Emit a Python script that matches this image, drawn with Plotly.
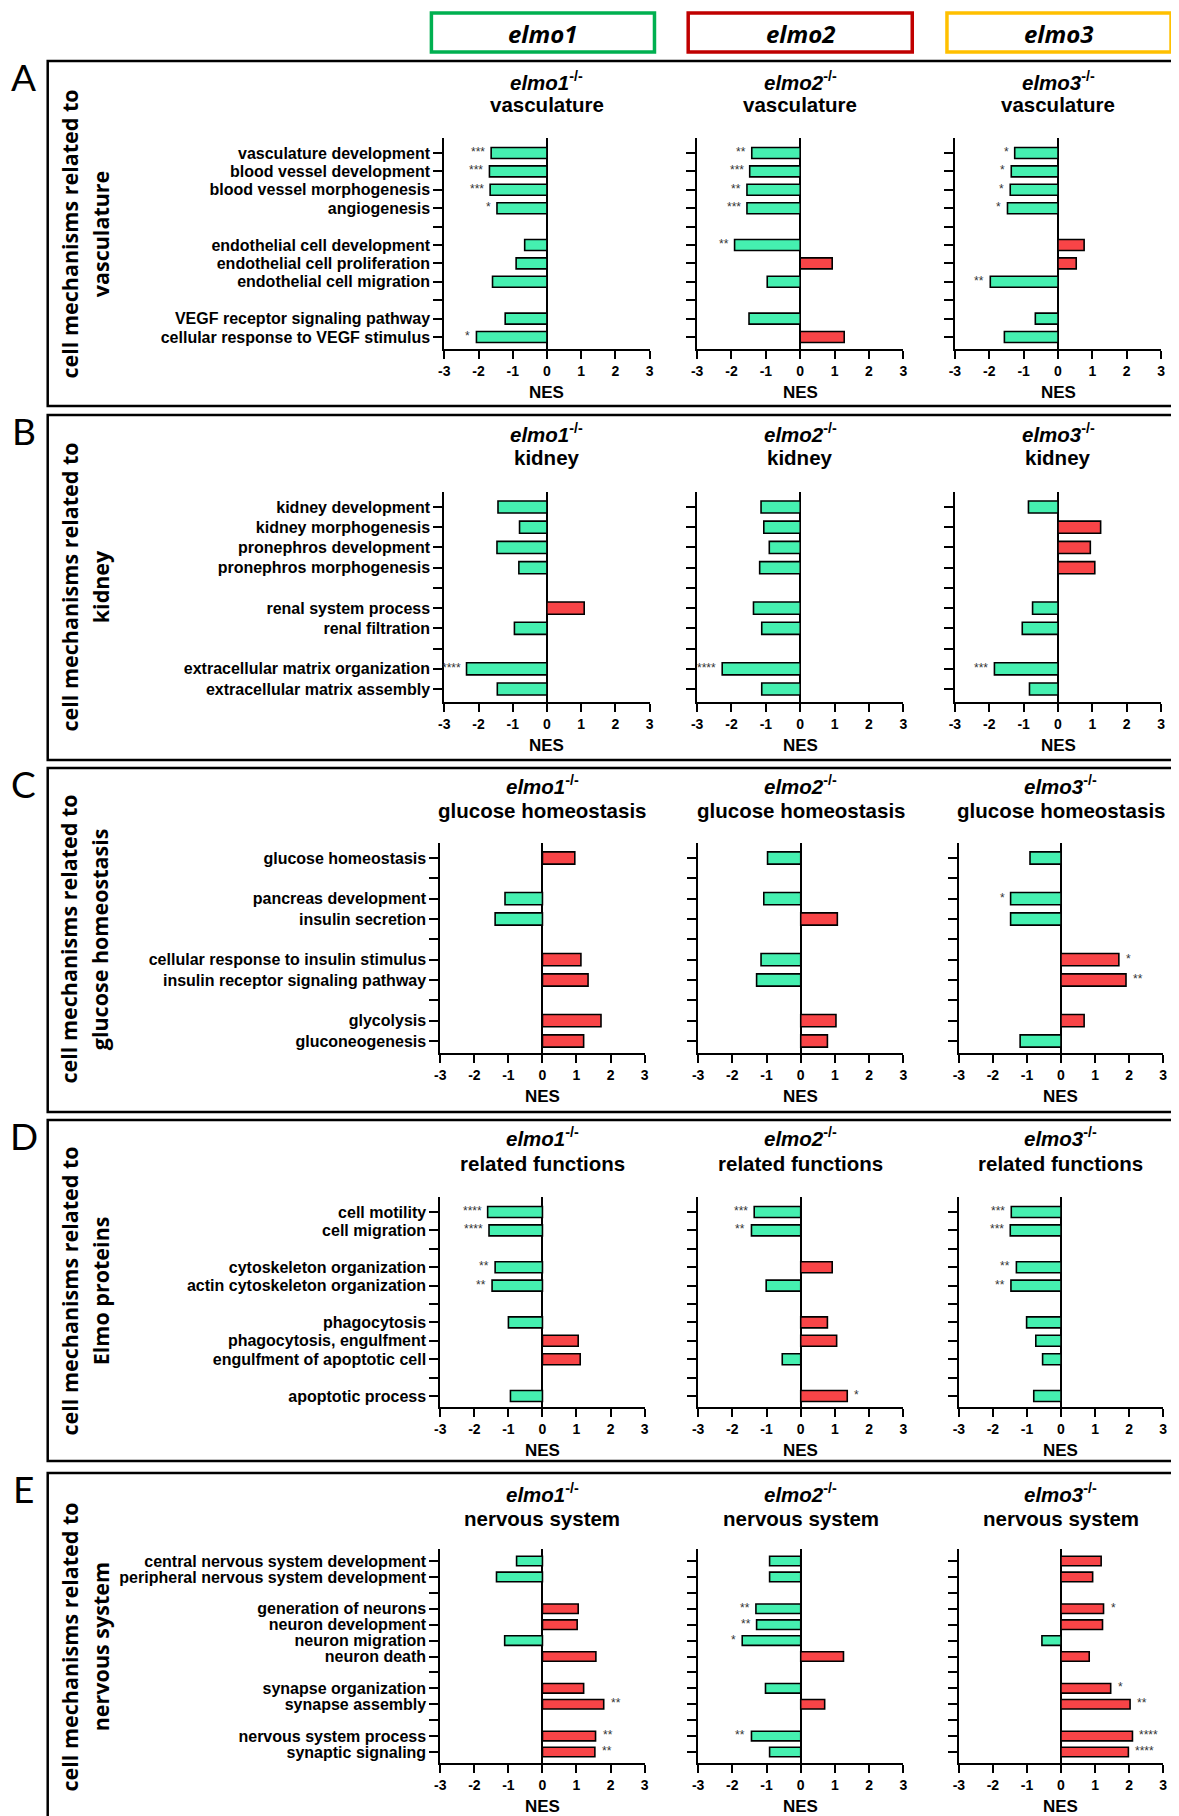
import plotly.graph_objects as go

W, H = 1179, 1816
OFF = 8                      # default page margin of the html body
FW, FH = W - OFF, H - OFF    # figure size so that it fits the window

# ------------------------- DATA -------------------------
GENES = ["elmo1", "elmo2", "elmo3"]
NES_TICKS = [-3, -2, -1, 0, 1, 2, 3]
NES_TICK_TEXT = ["-3", "-2", "-1", "0", "1", "2", "3"]

A_cats = ["vasculature development", "blood vessel development", "blood vessel morphogenesis",
          "angiogenesis", "", "endothelial cell development", "endothelial cell proliferation",
          "endothelial cell migration", "", "VEGF receptor signaling pathway",
          "cellular response to VEGF stimulus"]
A_elmo1 = [-1.63, -1.68, -1.66, -1.46, None, -0.65, -0.90, -1.59, None, -1.22, -2.06]
A_elmo2 = [-1.41, -1.47, -1.55, -1.55, None, -1.91, 0.93, -0.96, None, -1.49, 1.28]
A_elmo3 = [-1.26, -1.36, -1.39, -1.47, None, 0.76, 0.53, -1.97, None, -0.66, -1.56]
A_elmo1_sig = ["***", "***", "***", "*", "", "", "", "", "", "", "*"]
A_elmo2_sig = ["**", "***", "**", "***", "", "**", "", "", "", "", ""]
A_elmo3_sig = ["*", "*", "*", "*", "", "", "", "**", "", "", ""]

B_cats = ["kidney development", "kidney morphogenesis", "pronephros development",
          "pronephros morphogenesis", "", "renal system process", "renal filtration", "",
          "extracellular matrix organization", "extracellular matrix assembly"]
B_elmo1 = [-1.43, -0.80, -1.46, -0.82, None, 1.09, -0.95, None, -2.35, -1.45]
B_elmo2 = [-1.14, -1.06, -0.90, -1.18, None, -1.36, -1.12, None, -2.27, -1.12]
B_elmo3 = [-0.86, 1.24, 0.94, 1.07, None, -0.74, -1.04, None, -1.85, -0.83]
B_elmo1_sig = ["", "", "", "", "", "", "", "", "****", ""]
B_elmo2_sig = ["", "", "", "", "", "", "", "", "****", ""]
B_elmo3_sig = ["", "", "", "", "", "", "", "", "***", ""]

C_cats = ["glucose homeostasis", "", "pancreas development", "insulin secretion", "",
          "cellular response to insulin stimulus", "insulin receptor signaling pathway", "",
          "glycolysis", "gluconeogenesis"]
C_elmo1 = [0.95, None, -1.10, -1.39, None, 1.13, 1.34, None, 1.72, 1.21]
C_elmo2 = [-0.97, None, -1.08, 1.07, None, -1.16, -1.29, None, 1.03, 0.78]
C_elmo3 = [-0.91, None, -1.48, -1.48, None, 1.70, 1.91, None, 0.68, -1.20]
C_elmo1_sig = ["", "", "", "", "", "", "", "", "", ""]
C_elmo2_sig = ["", "", "", "", "", "", "", "", "", ""]
C_elmo3_sig = ["", "", "*", "", "", "*", "**", "", "", ""]

D_cats = ["cell motility", "cell migration", "", "cytoskeleton organization",
          "actin cytoskeleton organization", "", "phagocytosis", "phagocytosis, engulfment",
          "engulfment of apoptotic cell", "", "apoptotic process"]
D_elmo1 = [-1.61, -1.57, None, -1.39, -1.48, None, -1.00, 1.05, 1.11, None, -0.94]
D_elmo2 = [-1.36, -1.44, None, 0.92, -1.01, None, 0.78, 1.05, -0.54, None, 1.36]
D_elmo3 = [-1.46, -1.49, None, -1.31, -1.47, None, -1.01, -0.74, -0.54, None, -0.80]
D_elmo1_sig = ["****", "****", "", "**", "**", "", "", "", "", "", ""]
D_elmo2_sig = ["***", "**", "", "", "", "", "", "", "", "", "*"]
D_elmo3_sig = ["***", "***", "", "**", "**", "", "", "", "", "", ""]

E_cats = ["central nervous system development", "peripheral nervous system development", "",
          "generation of neurons", "neuron development", "neuron migration", "neuron death", "",
          "synapse organization", "synapse assembly", "", "nervous system process",
          "synaptic signaling"]
E_elmo1 = [-0.76, -1.35, None, 1.05, 1.02, -1.11, 1.57, None, 1.21, 1.80, None, 1.56, 1.54]
E_elmo2 = [-0.91, -0.91, None, -1.31, -1.29, -1.71, 1.25, None, -1.03, 0.70, None, -1.44, -0.91]
E_elmo3 = [1.18, 0.93, None, 1.25, 1.22, -0.56, 0.83, None, 1.46, 2.03, None, 2.10, 1.98]
E_elmo1_sig = ["", "", "", "", "", "", "", "", "", "**", "", "**", "**"]
E_elmo2_sig = ["", "", "", "**", "**", "*", "", "", "", "", "", "**", ""]
E_elmo3_sig = ["", "", "", "*", "", "", "", "", "*", "**", "", "****", "****"]

panels = [
    dict(letter="A", topic="vasculature", ytitle=("cell mechanisms related to", "vasculature"),
         cats=A_cats, vals=[A_elmo1, A_elmo2, A_elmo3], sig=[A_elmo1_sig, A_elmo2_sig, A_elmo3_sig]),
    dict(letter="B", topic="kidney", ytitle=("cell mechanisms related to", "kidney"),
         cats=B_cats, vals=[B_elmo1, B_elmo2, B_elmo3], sig=[B_elmo1_sig, B_elmo2_sig, B_elmo3_sig]),
    dict(letter="C", topic="glucose homeostasis", ytitle=("cell mechanisms related to", "glucose homeostasis"),
         cats=C_cats, vals=[C_elmo1, C_elmo2, C_elmo3], sig=[C_elmo1_sig, C_elmo2_sig, C_elmo3_sig]),
    dict(letter="D", topic="related functions", ytitle=("cell mechanisms related to", "Elmo proteins"),
         cats=D_cats, vals=[D_elmo1, D_elmo2, D_elmo3], sig=[D_elmo1_sig, D_elmo2_sig, D_elmo3_sig]),
    dict(letter="E", topic="nervous system", ytitle=("cell mechanisms related to", "nervous system"),
         cats=E_cats, vals=[E_elmo1, E_elmo2, E_elmo3], sig=[E_elmo1_sig, E_elmo2_sig, E_elmo3_sig]),
]

# ------------------------- LAYOUT GEOMETRY (window pixels) -------------------------
XD_AB = [(442, 649), (697, 905), (957, 1165)]
XD_CDE = [(438, 644), (698, 905), (961, 1167)]
geom = [
    dict(frame=(61, 406), title=(81, 105), axis=(138, 349), rows=(153, 337), xdom=XD_AB, yt=234),
    dict(frame=(415, 760), title=(433, 458), axis=(492, 702), rows=(507, 689), xdom=XD_AB, yt=587),
    dict(frame=(768, 1112), title=(785, 810), axis=(843, 1053), rows=(858, 1041), xdom=XD_CDE, yt=939),
    dict(frame=(1120, 1461), title=(1137, 1163), axis=(1197, 1407), rows=(1212, 1396), xdom=XD_CDE, yt=1291),
    dict(frame=(1473, 1840), title=(1493, 1518), axis=(1549, 1763), rows=(1561, 1752), xdom=XD_CDE, yt=1647),
]

GREEN = "#45F0B0"
RED = "#F84447"
LBL_FONT = "Liberation Sans, Arial, sans-serif"
TTL_FONT = "Open Sans, Liberation Sans, sans-serif"


def px(x):
    return (x - OFF) / FW


def py(y):
    return 1 - (y - OFF) / FH


fig = go.Figure()
layout = {}
annotations = []
shapes = []

# header boxes
HEAD_X = [(429, 654, "#00B050"), (688, 914, "#C00000"), (949, 1175, "#FFC000")]
for (x0, x1, col), g in zip(HEAD_X, GENES):
    shapes.append(dict(type="rect", xref="paper", yref="paper", x0=px(x0), x1=px(x1),
                       y0=py(52), y1=py(13), line=dict(color=col, width=3.5)))
    annotations.append(dict(text=f"<b><i>{g}</i></b>", x=px((x0 + x1) / 2), y=py(33),
                            xref="paper", yref="paper", showarrow=False,
                            font=dict(family=TTL_FONT, size=24, color="black"),
                            xanchor="center", yanchor="middle"))

k = 0
for p, g in zip(panels, geom):
    n = len(p["cats"])
    first, last = g["rows"]
    step = (last - first) / (n - 1)
    top, bot = g["axis"]
    y_top = -(first - top) / step
    y_bot = (n - 1) + (bot - last) / step
    ys = list(range(n))
    lab_rows = [i for i, c in enumerate(p["cats"]) if c]
    lab_text = [p["cats"][i] for i in lab_rows]
    gap_rows = [i for i, c in enumerate(p["cats"]) if not c]

    # panel frame
    f0, f1 = g["frame"]
    shapes.append(dict(type="rect", xref="paper", yref="paper", x0=px(42), x1=px(1195),
                       y0=py(f1), y1=py(f0), line=dict(color="black", width=2.5)))
    annotations.append(dict(text=p["letter"], x=px(18), y=py(f0 + 15), xref="paper", yref="paper",
                            showarrow=False, font=dict(family="Lato, Open Sans, sans-serif", size=37, color="black"),
                            xanchor="center", yanchor="middle"))
    # y titles
    for tx, xx in zip(p["ytitle"], (63, 95)):
        annotations.append(dict(text=f"<b>{tx}</b>", x=px(xx), y=py(g["yt"]), xref="paper", yref="paper",
                                showarrow=False, textangle=-90,
                                font=dict(family=TTL_FONT, size=21.5, color="black"),
                                xanchor="center", yanchor="middle"))

    for j in range(3):
        k += 1
        sfx = "" if k == 1 else str(k)
        xa, ya = "x" + sfx, "y" + sfx
        vals = p["vals"][j]
        colors = [RED if (v is not None and v > 0) else GREEN for v in vals]
        fig.add_trace(go.Bar(x=vals, y=ys, orientation="h", width=0.6,
                             marker=dict(color=colors, line=dict(color="black", width=1.6)),
                             xaxis=xa, yaxis=ya, showlegend=False, hoverinfo="skip"))
        x0, x1 = g["xdom"][j]
        layout["xaxis" + sfx] = dict(domain=[px(x0), px(x1)], range=[-3, 3], anchor=ya,
                                     tickmode="array", tickvals=NES_TICKS, ticktext=NES_TICK_TEXT,
                                     ticks="outside", ticklen=8, tickwidth=2, tickcolor="black",
                                     showline=True, linewidth=2, linecolor="black",
                                     zeroline=True, zerolinecolor="black", zerolinewidth=2,
                                     showgrid=False, fixedrange=True,
                                     tickfont=dict(family=LBL_FONT, size=14, color="black", weight="bold"))
        layout["yaxis" + sfx] = dict(domain=[py(bot), py(top)], range=[y_bot, y_top], anchor=xa,
                                     tickmode="array", tickvals=lab_rows, ticktext=lab_text,
                                     showticklabels=(j == 0),
                                     ticks="outside", ticklen=9, tickwidth=2, tickcolor="black",
                                     minor=dict(tickmode="array", tickvals=gap_rows, ticks="outside",
                                                ticklen=9, tickwidth=2, tickcolor="black", showgrid=False),
                                     showline=True, linewidth=2, linecolor="black",
                                     showgrid=False, zeroline=False, fixedrange=True,
                                     tickfont=dict(family=LBL_FONT, size=16, color="black", weight="bold"))
        xc = px((x0 + x1) / 2)
        annotations.append(dict(text=f"<b><i>{GENES[j]}</i><sup>-/-</sup></b>", x=xc, y=py(g["title"][0]),
                                xref="paper", yref="paper", showarrow=False,
                                font=dict(family=LBL_FONT, size=20.5, color="black"),
                                xanchor="center", yanchor="middle"))
        annotations.append(dict(text=f"<b>{p['topic']}</b>", x=xc, y=py(g["title"][1]),
                                xref="paper", yref="paper", showarrow=False,
                                font=dict(family=LBL_FONT, size=20.5, color="black"),
                                xanchor="center", yanchor="middle"))
        annotations.append(dict(text="<b>NES</b>", x=xc, y=py(bot + 43),
                                xref="paper", yref="paper", showarrow=False,
                                font=dict(family=LBL_FONT, size=17, color="black"),
                                xanchor="center", yanchor="middle"))
        for yi, (v, s) in enumerate(zip(vals, p["sig"][j])):
            if v is None or not s:
                continue
            annotations.append(dict(text=s, x=v, y=yi, xref=xa, yref=ya, showarrow=False,
                                    xanchor="right" if v < 0 else "left",
                                    xshift=-4 if v < 0 else 5, yshift=1,
                                    font=dict(family=LBL_FONT, size=12, color="#333333")))

layout.update(width=FW, height=FH, margin=dict(l=0, r=0, t=0, b=0),
              paper_bgcolor="white", plot_bgcolor="white",
              annotations=annotations, shapes=shapes, bargap=0.4)
fig.update_layout(**layout)
fig.write_html("out.html")
